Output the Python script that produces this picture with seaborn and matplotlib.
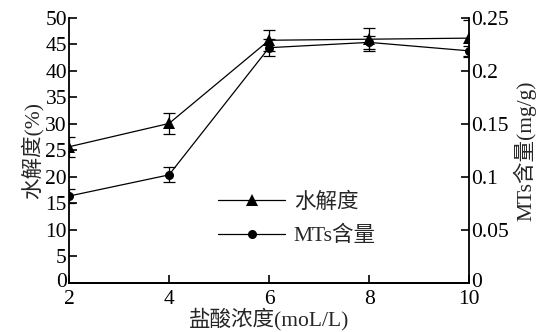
import matplotlib
matplotlib.use('Agg')
import matplotlib.pyplot as plt
import matplotlib.transforms as mtransforms
import seaborn as sns
import pandas as pd

# data
hcl = [2, 4, 6, 8, 10]
hydrolysis = [25.7, 30.1, 45.8, 46.0, 46.2]        # 水解度 (%)
hydrolysis_err = [1.9, 2.0, 2.0, 2.2, 3.5]
mts = [0.082, 0.102, 0.222, 0.227, 0.219]          # MTs含量 (mg/g)
mts_err = [0.007, 0.007, 0.008, 0.006, 0.005]

sns.set_theme(style='ticks')
plt.rcParams['font.family'] = ['Liberation Serif', 'Noto Sans CJK SC']
plt.rcParams['axes.unicode_minus'] = False

df = pd.DataFrame({'hcl': hcl, 'hyd': hydrolysis, 'mts': mts})

fs = 15.5
fig = plt.figure(figsize=(5.43, 3.32), dpi=100)
ax = fig.add_axes([0.127, 0.1476, 0.737, 0.7982])
ax2 = ax.twinx()

sns.lineplot(data=df, x='hcl', y='hyd', marker='^', markersize=9, color='black',
             linewidth=0.9, markeredgewidth=0, ax=ax)
ax.errorbar(hcl, hydrolysis, yerr=hydrolysis_err, fmt='none', ecolor='black',
            elinewidth=0.9, capsize=4.5, capthick=0.9)

sns.lineplot(data=df, x='hcl', y='mts', marker='o', markersize=6.5, color='black',
             linewidth=0.9, markeredgewidth=0, ax=ax2)
ax2.errorbar(hcl, mts, yerr=mts_err, fmt='none', ecolor='black',
             elinewidth=0.9, capsize=4.5, capthick=0.9)

ax.set_xlim(2, 10)
ax.set_ylim(0, 50)
ax2.set_ylim(0, 0.25)
ax.set_xticks(hcl)
ax.set_yticks(range(0, 51, 5))
ax2.set_yticks([0, 0.05, 0.1, 0.15, 0.2, 0.25])
ax2.set_yticklabels(['0', '0.05', '0.1', '0.15', '0.2', '0.25'])

for a in (ax, ax2):
    a.spines['top'].set_visible(False)
    for s in a.spines.values():
        s.set_linewidth(1.3)
        s.set_color('black')
    a.tick_params(direction='in', length=6, width=1.2, labelsize=fs, colors='black', pad=1.5)
ax.tick_params(axis='x', pad=5)
ax2.spines['left'].set_visible(False)
ax.spines['right'].set_visible(False)

# the corner "0" labels sit a touch higher so they clear the x tick labels
for lab in (ax.get_yticklabels()[0], ax2.get_yticklabels()[0]):
    lab.set_transform(lab.get_transform() + mtransforms.ScaledTranslation(0, 2 / 72, fig.dpi_scale_trans))

ax.set_xlabel('盐酸浓度(moL/L)', fontsize=fs, labelpad=-1)
ax.set_ylabel('水解度(%)', fontsize=fs, labelpad=1)
ax2.set_ylabel('MTs含量(mg/g)', fontsize=fs, labelpad=3)

h1 = ax.get_lines()[0]
h2 = ax2.get_lines()[0]
leg = ax2.legend([h1, h2], ['水解度', 'MTs含量'], loc='center left',
                 bbox_to_anchor=(0.325, 0.24), frameon=False, fontsize=fs,
                 handlelength=3.1, handletextpad=0.4, labelspacing=0.6)

fig.savefig('out.png', dpi=100)
